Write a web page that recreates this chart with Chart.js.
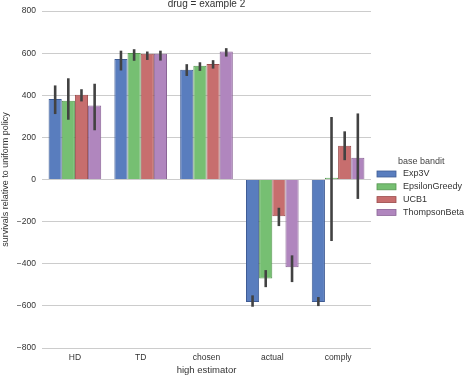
<!DOCTYPE html>
<html>
<head>
<meta charset="utf-8">
<script src="https://cdn.jsdelivr.net/npm/chart.js@4/dist/chart.umd.min.js"></script>
<style>
  html, body { margin: 0; padding: 0; background: #fff; }
  #wrap { width: 464px; height: 376px; }
</style>
</head>
<body>
<div id="wrap"><canvas id="c" width="464" height="376"></canvas></div>
<script>
const estimators = ['HD', 'TD', 'chosen', 'actual', 'comply'];
const bandits = ['Exp3V', 'EpsilonGreedy', 'UCB1', 'ThompsonBeta'];

// mean survivals relative to uniform policy, per bandit
const exp3v     = [383, 573, 521, -582, -582];
const epsGreedy = [374, 601, 540, -470, 8];
const ucb1      = [403, 597, 549, -174, 161];
const thompson  = [352, 597, 608, -416, 104];

// confidence intervals [low, high]
const exp3vCI     = [[311, 447], [518, 612], [492, 548], [-604, -550], [-601, -558]];
const epsGreedyCI = [[284, 481], [564, 619], [516, 557], [-511, -430], [-292, 297]];
const ucb1CI      = [[371, 429], [568, 608], [527, 567], [-221, -134], [92, 229]];
const thompsonCI  = [[234, 455], [565, 612], [584, 624], [-487, -360], [-92, 314]];

const yTicks = [-800, -600, -400, -200, 0, 200, 400, 600, 800];

const fills = ['#597DBE', '#76BF72', '#C76E6E', '#B086BE'];
const edges = ['#3f5c94', '#55964f', '#9c4c4c', '#8a6496'];
const series = [exp3v, epsGreedy, ucb1, thompson];
const intervals = [exp3vCI, epsGreedyCI, ucb1CI, thompsonCI];

const font = '"Liberation Sans", Arial, sans-serif';

const errorBars = {
  id: 'errorBars',
  afterDatasetsDraw(chart) {
    const ctx = chart.ctx;
    const y = chart.scales.y;
    ctx.save();
    ctx.strokeStyle = '#424242';
    ctx.lineWidth = 2.6;
    intervals.forEach((ci, d) => {
      const meta = chart.getDatasetMeta(d);
      meta.data.forEach((bar, i) => {
        ctx.beginPath();
        ctx.moveTo(bar.x, y.getPixelForValue(ci[i][0]));
        ctx.lineTo(bar.x, y.getPixelForValue(ci[i][1]));
        ctx.stroke();
      });
    });
    ctx.restore();
  }
};

const extras = {
  id: 'extras',
  afterDraw(chart) {
    const ctx = chart.ctx;
    const area = chart.chartArea;
    ctx.save();
    ctx.fillStyle = '#333';
    ctx.font = '10px ' + font;
    ctx.textAlign = 'center';
    ctx.textBaseline = 'middle';
    ctx.fillText('drug = example 2', (area.left + area.right) / 2, 4);

    // legend
    ctx.font = '9px ' + font;
    ctx.textAlign = 'left';
    ctx.fillStyle = '#444';
    ctx.fillText('base bandit', 398, 162);
    bandits.forEach((name, i) => {
      const yy = 174 + i * 12.8;
      ctx.fillStyle = fills[i];
      ctx.fillRect(377, yy - 3, 19, 6);
      ctx.strokeStyle = edges[i];
      ctx.lineWidth = 0.8;
      ctx.strokeRect(377, yy - 3, 19, 6);
      ctx.fillStyle = '#333';
      ctx.fillText(name, 403, yy);
    });
    ctx.restore();
  }
};

new Chart(document.getElementById('c'), {
  type: 'bar',
  data: {
    labels: estimators,
    datasets: bandits.map((name, i) => ({
      label: name,
      data: series[i],
      backgroundColor: fills[i],
      borderColor: edges[i],
      borderWidth: 1,
      categoryPercentage: 0.8,
      barPercentage: 1.0
    }))
  },
  options: {
    responsive: false,
    animation: false,
    layout: { padding: { left: 0, right: 93, top: 11, bottom: 0 } },
    plugins: {
      legend: { display: false },
      tooltip: { enabled: false }
    },
    scales: {
      x: {
        grid: { display: false, drawTicks: false },
        border: { display: false },
        ticks: { color: '#333', font: { family: font, size: 8.5 }, padding: 5 },
        title: { display: true, text: 'high estimator', color: '#333', font: { family: font, size: 9.5 }, padding: 0 },
        afterFit(s) { s.height = 28; }
      },
      y: {
        min: -800,
        max: 800,
        afterBuildTicks(s) { s.ticks = yTicks.map(v => ({ value: v })); },
        grid: { color: '#cccccc', lineWidth: 1, drawTicks: false },
        border: { display: false },
        ticks: {
          color: '#333',
          font: { family: font, size: 8.5 },
          padding: 6,
          callback: v => (v < 0 ? '\u2212' + Math.abs(v) : String(v))
        },
        title: { display: true, text: 'survivals relative to uniform policy', color: '#333', font: { family: font, size: 9 }, padding: 0 },
        afterFit(s) { s.width = 42; }
      }
    }
  },
  plugins: [errorBars, extras]
});
</script>
</body>
</html>
